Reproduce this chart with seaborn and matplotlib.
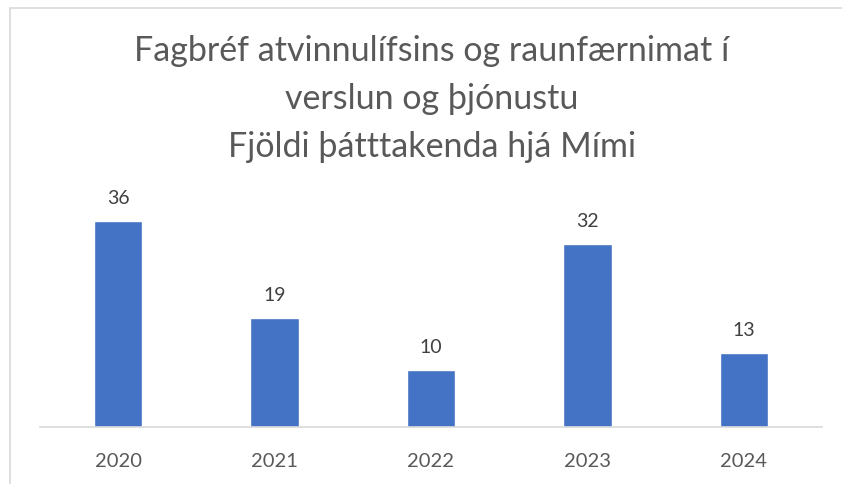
import matplotlib
matplotlib.use('Agg')
import matplotlib.pyplot as plt
import pandas as pd
import seaborn as sns
from matplotlib.patches import Rectangle

# Data
years = ['2020', '2021', '2022', '2023', '2024']
participants = [36, 19, 10, 32, 13]
title_lines = ['Fagbréf atvinnulífsins og raunfærnimat í',
               'verslun og þjónustu',
               'Fjöldi þátttakenda hjá Mími']

df = pd.DataFrame({'year': years, 'count': participants})

sns.set_style('white')
plt.rcParams['font.family'] = ['Lato', 'DejaVu Sans']

W, H = 842, 484
fig = plt.figure(figsize=(W / 100, H / 100), dpi=100)
ax = fig.add_axes([40 / W, 57 / H, 782 / W, 229 / H])

sns.barplot(data=df, x='year', y='count', color='#4472C4', width=0.31,
            saturation=1, ax=ax)
ax.set_ylim(0, 40)
ax.set_xlim(-0.5, 4.5)

for i, v in enumerate(participants):
    ax.annotate(str(v), (i, v), xytext=(0, 10), textcoords='offset points',
                ha='center', va='bottom', fontsize=14, color='#404040')

ax.set_yticks([])
ax.set_xlabel('')
ax.set_ylabel('')
for s in ['top', 'right', 'left']:
    ax.spines[s].set_visible(False)
ax.spines['bottom'].set_color('#D9D9D9')
ax.spines['bottom'].set_linewidth(1.2)
ax.tick_params(axis='x', length=0, pad=19, labelsize=14.5, labelcolor='#595959')

# chart frame
fig.patches.append(Rectangle((10 / W, -0.1), 1.0, (H - 8) / H + 0.1,
                             transform=fig.transFigure, fill=False,
                             edgecolor='#D9D9D9', linewidth=1.2))

for k, line in enumerate(title_lines):
    fig.text(432 / W, 1 - (51 + 48 * k) / H, line, ha='center', va='center',
             fontsize=24.5, color='#595959')

fig.savefig('out.png', dpi=100)
